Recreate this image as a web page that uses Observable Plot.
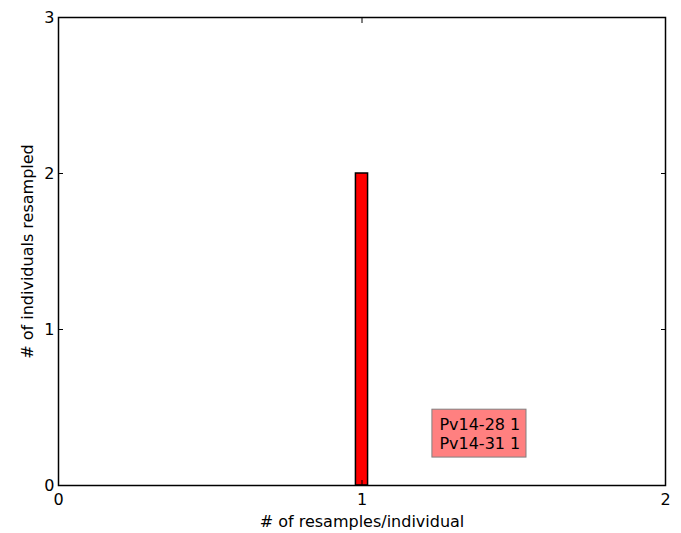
<!DOCTYPE html>
<html>
<head>
<meta charset="utf-8">
<script src="https://cdn.jsdelivr.net/npm/d3@7"></script>
<script src="https://cdn.jsdelivr.net/npm/@observablehq/plot@0.6"></script>
<style>
  html, body { margin: 0; padding: 0; background: #fff; }
  #chart svg { display: block; }
</style>
</head>
<body>
<div id="chart"></div>
<script>
// Resample counts: how many individuals were resampled a given number of times
const resampleCounts = [1];
const individuals = [2];
const xTicks = [0, 1, 2];
const yTicks = [0, 1, 2, 3];
// Individuals listed in the annotation box, with their resample counts
const sampleIds = ["Pv14-28", "Pv14-31"];
const sampleResamples = [1, 1];

const bars = resampleCounts.map((r, i) => ({r, n: individuals[i]}));
const noteText = sampleIds.map((id, i) => `${id} ${sampleResamples[i]}`).join("\n");

const barHalfWidth = 0.02;
const tickFmt = d3.format("d");

const chart = Plot.plot({
  width: 681,
  height: 533,
  marginLeft: 58,
  marginRight: 16,
  marginTop: 17,
  marginBottom: 48,
  style: {fontFamily: "DejaVu Sans", fontSize: "16px", color: "black", background: "white"},
  x: {domain: [0, 2]},
  y: {domain: [0, 3]},
  marks: [
    Plot.rectY(bars, {
      x1: d => d.r - barHalfWidth,
      x2: d => d.r + barHalfWidth,
      y: "n",
      fill: "#ff0000",
      stroke: "black",
      strokeWidth: 1.5
    }),
    // annotation box listing resampled individuals
    Plot.rect([noteText], {
      x1: 1.232, x2: 1.542, y1: 0.179, y2: 0.486,
      fill: "#ff8080",
      stroke: "#808080",
      strokeWidth: 1
    }),
    Plot.text([noteText], {
      x: 1.255, y: 0.336,
      text: d => d,
      textAnchor: "start",
      lineAnchor: "middle",
      lineHeight: 1.2,
      fontSize: 16,
      fill: "black"
    }),
    // tick labels and axis titles
    Plot.axisX({
      ticks: xTicks, tickFormat: tickFmt, tickSize: 0, tickPadding: 8,
      label: "# of resamples/individual", labelAnchor: "center", labelArrow: "none",
      labelOffset: 41
    }),
    Plot.axisY({
      ticks: yTicks, tickFormat: tickFmt, tickSize: 0, tickPadding: 4,
      label: "# of individuals resampled", labelAnchor: "center", labelArrow: "none",
      labelOffset: 37
    }),
    // inward tick marks on all four sides
    Plot.axisX({anchor: "bottom", ticks: xTicks, tickSize: -5, tickFormat: () => "", label: null, strokeWidth: 1}),
    Plot.axisX({anchor: "top", ticks: xTicks, tickSize: -5, tickFormat: () => "", label: null, strokeWidth: 1}),
    Plot.axisY({anchor: "left", ticks: yTicks, tickSize: -5, tickFormat: () => "", label: null, strokeWidth: 1}),
    Plot.axisY({anchor: "right", ticks: yTicks, tickSize: -5, tickFormat: () => "", label: null, strokeWidth: 1}),
    Plot.frame({stroke: "black", strokeWidth: 1.5})
  ]
});

document.getElementById("chart").appendChild(chart);
</script>
</body>
</html>
